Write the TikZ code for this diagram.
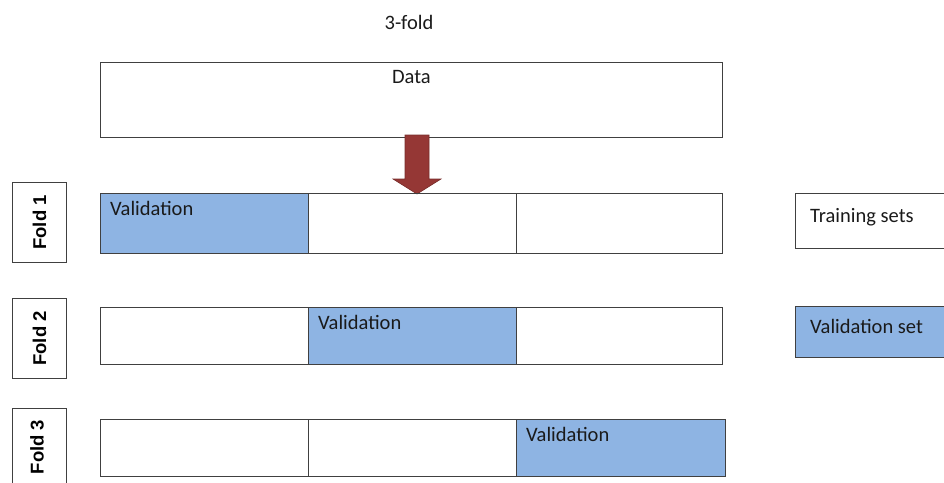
\documentclass[tikz,border=0pt]{standalone}
\usepackage{fontspec}
\setmainfont{Carlito}
\newfontfamily\foldfont{Liberation Sans}
\definecolor{valblue}{HTML}{8EB4E3}
\definecolor{arrowred}{HTML}{953735}
\definecolor{edgegray}{HTML}{404040}
\definecolor{textgray}{HTML}{1A1A1A}

\tikzset{
  box/.style={draw=edgegray,line width=0.9pt,anchor=north west,inner sep=0pt},
  cell/.style={box,minimum width=208pt,minimum height=#1},
  foldbox/.style={box,minimum width=54pt,minimum height=80pt},
  txt/.style={font=\fontsize{20.5}{23}\selectfont,text=textgray,inner sep=0pt},
  foldtxt/.style={font=\foldfont\bfseries\fontsize{18.5}{20}\selectfont,rotate=90,inner sep=0pt}
}

\begin{document}
\begin{tikzpicture}[x=1pt,y=-1pt]
  \useasboundingbox (0,0) rectangle (944,482);
  % title
  \node[txt] (title) at (409,22) {3-fold};
  % data
  \node[box,minimum width=622pt,minimum height=75pt] (data) at (100,62) {};
  \node[txt,anchor=north] (datatxt) at ([yshift=-8pt]data.north) {Data};
  % arrow
  \fill[arrowred,draw=arrowred!80!black,line width=0.6pt]
    (405,135) -- (429,135) -- (429,179) -- (441,179) -- (417,194)
    -- (393,179) -- (405,179) -- cycle;
  % fold 1
  \node[foldbox] (fold1) at (12,182) {};
  \node[foldtxt] (fold1txt) at (fold1.center) {Fold 1};
  \node[cell=60pt,fill=valblue] (r1a) at (100,193) {};
  \node[cell=60pt] (r1b) at (308,193) {};
  \node[cell=60pt,minimum width=206pt] (r1c) at (516,193) {};
  \node[txt,anchor=north west] (r1txt) at ([xshift=10pt,yshift=-8pt]r1a.north west) {Validation};
  % fold 2
  \node[foldbox] (fold2) at (12,298) {};
  \node[foldtxt] (fold2txt) at (fold2.center) {Fold 2};
  \node[cell=57pt] (r2a) at (100,307) {};
  \node[cell=57pt,fill=valblue] (r2b) at (308,307) {};
  \node[cell=57pt,minimum width=206pt] (r2c) at (516,307) {};
  \node[txt,anchor=north west] (r2txt) at ([xshift=10pt,yshift=-8pt]r2b.north west) {Validation};
  % fold 3
  \node[foldbox,minimum height=90pt] (fold3) at (12,408) {};
  \node[foldtxt] (fold3txt) at (37,447) {Fold 3};
  \node[cell=57pt] (r3a) at (100,419) {};
  \node[cell=57pt] (r3b) at (308,419) {};
  \node[cell=57pt,minimum width=209pt,fill=valblue] (r3c) at (516,419) {};
  \node[txt,anchor=north west] (r3txt) at ([xshift=10pt,yshift=-8pt]r3c.north west) {Validation};
  % legend
  \node[box,minimum width=160pt,minimum height=55pt] (train) at (795,193) {};
  \node[txt,anchor=west] (traintxt) at (810,217) {Training sets};
  \node[box,minimum width=160pt,minimum height=51pt,fill=valblue] (val) at (795,306) {};
  \node[txt,anchor=west] (valtxt) at (810,326) {Validation set};
\end{tikzpicture}
\end{document}
